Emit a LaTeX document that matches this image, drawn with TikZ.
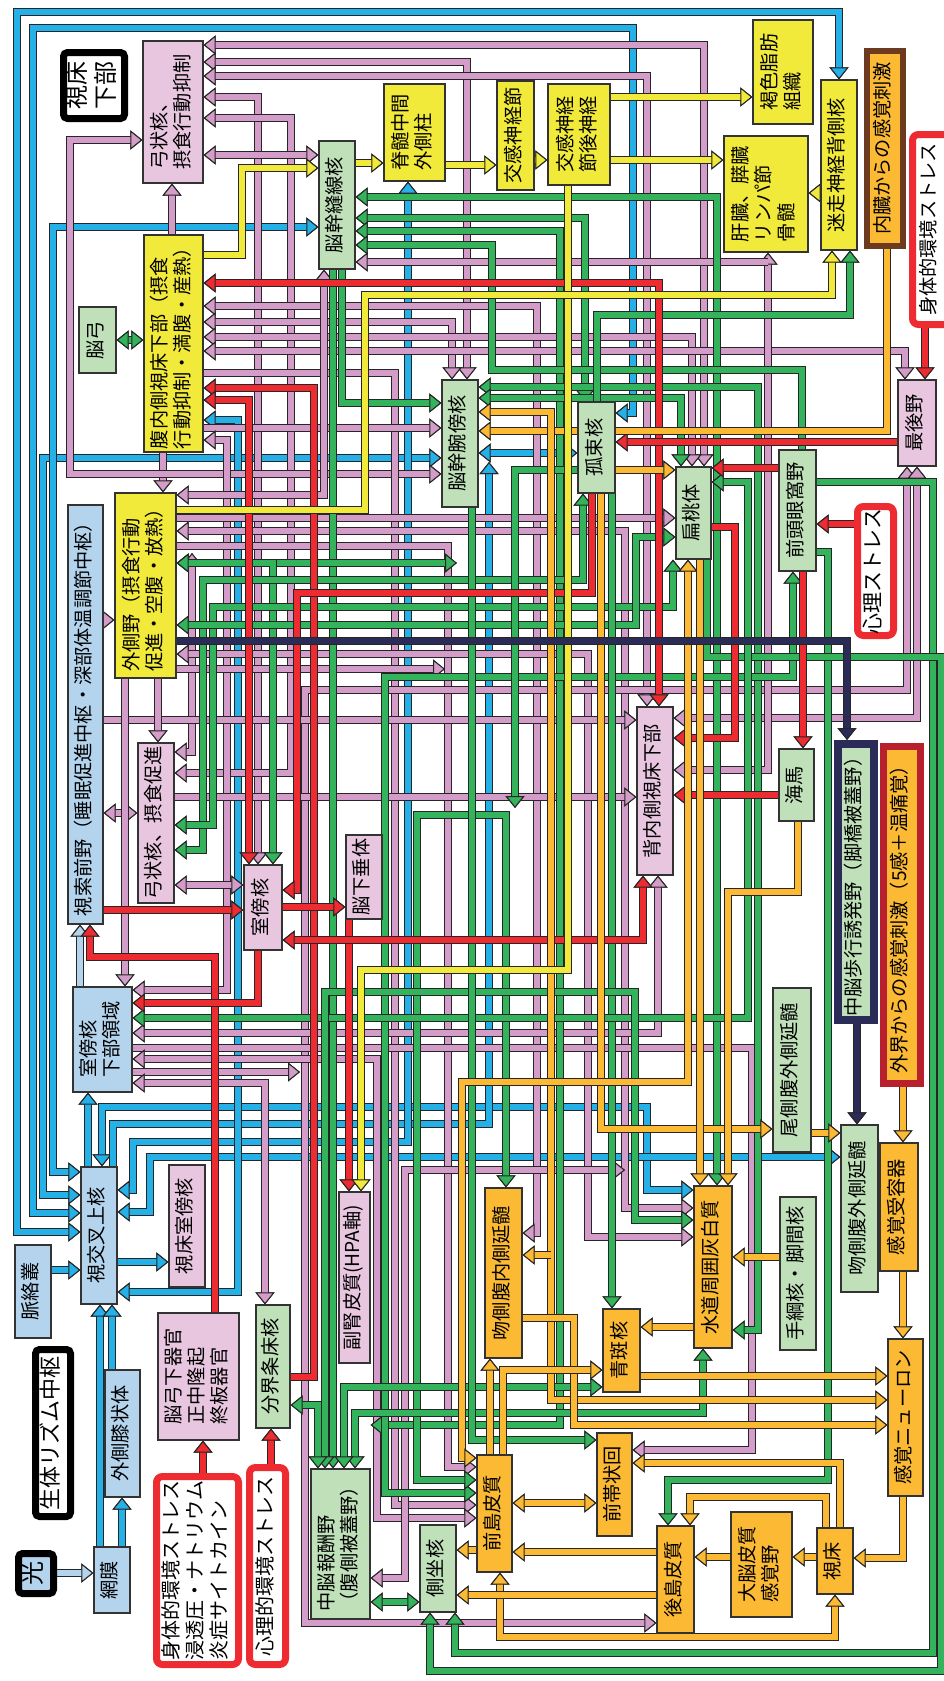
\documentclass[tikz,border=0pt]{standalone}
\usepackage{fontspec}
\setmainfont{Noto Sans CJK JP}
\usetikzlibrary{arrows.meta}
\pgfdeclarelayer{bg}
\pgfsetlayers{bg,main}
\definecolor{lnB}{HTML}{25B0E8}
\definecolor{lnP}{HTML}{D49CC8}
\definecolor{lnG}{HTML}{33B35B}
\definecolor{lnY}{HTML}{F2EA3A}
\definecolor{lnR}{HTML}{EE2B30}
\definecolor{lnO}{HTML}{FBB934}
\definecolor{lnN}{HTML}{2B2B57}
\definecolor{lnL}{HTML}{B4D4EE}
\definecolor{pkB}{HTML}{E8C6E0}
\definecolor{grB}{HTML}{BFE0B8}
\definecolor{blB}{HTML}{B4D4EE}
\definecolor{yeB}{HTML}{F2EA3A}
\definecolor{orB}{HTML}{FBB934}
\definecolor{brn}{HTML}{6B3A1F}
\definecolor{dkr}{HTML}{B8202E}
\tikzset{
  box/.style={draw=black!80, line width=0.6pt, inner sep=0pt, font=\fontsize{9.6}{11.5}\selectfont},
  thk/.style={draw=black, line width=3.5pt, rounded corners=2pt},
  strs/.style={draw=lnR, line width=3.5pt, rounded corners=3pt},
  ln/.style={line width=3pt, draw=#1,
    >={Triangle[length=6pt,width=9.5pt,line width=0.5pt,color=black!85,fill=#1]},
    preaction={draw=black!85, line width=4.2pt}},
  bl/.style={ln=lnB}, pk/.style={ln=lnP}, gr/.style={ln=lnG}, ye/.style={ln=lnY},
  rd/.style={ln=lnR}, og/.style={ln=lnO}, nv/.style={ln=lnN}, lb/.style={ln=lnL}
}
% box: [options]{name}{x1}{y1}{x2}{y2}{fill}{text}
\newcommand\bx[8][]{\node[box,fill=#7,minimum width={(#5-#3)*0.5pt},minimum height={(#6-#4)*0.5pt},#1] (#2) at ({(#3+#5)/2},{(#4+#6)/2}) {\rotatebox{90}{\begin{tabular}{@{}l@{}}#8\end{tabular}}};}

\begin{document}
\begin{tikzpicture}[x=0.5pt,y=-0.5pt]
\useasboundingbox (0,0) rectangle (943,1681);
\begin{pgfonlayer}{bg}
\fill[white] (0,0) rectangle (943,1681);
\end{pgfonlayer}

% hypothalamus and upper part
\bx[thk,font=\fontsize{12}{14}\selectfont]{hyp}{63.5}{52.5}{124.5}{118.5}{white}{視床\\下部}
\bx{arcinh}{143}{41}{203}{183}{pkB}{弓状核、\\摂食行動抑制}
\bx{vmh}{144}{235}{203}{452}{yeB}{腹内側視床下部（摂食\\行動抑制・満腹・産熱）}
\bx{fornix}{79}{307}{116}{373}{grB}{脳弓}
\bx{raphe}{319}{141}{355}{269}{grB}{脳幹縫線核}
\bx{iml}{384}{84}{445}{181}{yeB}{脊髄中間\\外側柱}
\bx{sgang}{497}{81}{534}{190}{yeB}{交感神経節}
\bx{postg}{548}{84}{610}{185}{yeB}{交感神経\\節後神経}
\bx{bat}{753}{20}{813}{124}{yeB}{褐色脂肪\\組織}
\bx{liver}{724}{136}{808}{252}{yeB}{肝臓、膵臓\\リンパ節\\骨髄}
\bx{dmv}{821}{80}{857}{250}{yeB}{迷走神経背側核}
\bx[draw=brn,line width=3pt]{visc}{867}{51}{903}{246}{orB}{内臓からの感覚刺激}
\bx[strs]{phys2}{912.5}{134.5}{950}{324.5}{white}{身体的環境ストレス}
\bx{ap}{898}{380}{936}{466}{pkB}{最後野}
\bx{pbn}{442}{380}{478}{507}{grB}{脳幹腕傍核}
\bx{nts}{578}{402}{615}{493}{grB}{孤束核}
\bx{amy}{676}{467}{711}{559}{grB}{扁桃体}
\bx{ofc}{779}{450}{816}{571}{grB}{前頭眼窩野}
\bx[strs,font=\fontsize{10.5}{12}\selectfont]{psy1}{857.5}{506.5}{893.5}{635.5}{white}{心理ストレス}
\bx{poa}{68}{505}{103}{924}{blB}{視索前野（睡眠促進中枢・深部体温調節中枢）}
\bx{lh}{115}{493}{176}{678}{yeB}{外側野（摂食行動\\促進・空腹・放熱）}
\bx{arcexc}{138}{743}{174}{903}{pkB}{弓状核、摂食促進}
\bx{dmh}{637}{707}{673}{875}{pkB}{背内側視床下部}
\bx{hip}{779}{749}{814}{821}{grB}{海馬}
\bx[draw=lnN,line width=4pt]{mlr}{838}{744}{874}{1020}{grB}{中脳歩行誘発野（脚橋被蓋野）}
\bx[draw=dkr,line width=3.5pt]{ext}{883.5}{746.5}{920.5}{1083.5}{orB}{外界からの感覚刺激（5感＋温痛覚）}
\bx{pvn}{244}{865}{282}{950}{pkB}{室傍核}
\bx{pit}{346}{835}{382}{919}{pkB}{脳下垂体}
\bx{subpvz}{73}{987}{132}{1092}{blB}{室傍核\\下部領域}
% lower part
\bx{scn}{81}{1167}{117}{1304}{blB}{視交叉上核}
\bx{pvt}{169}{1165}{205}{1287}{pkB}{視床室傍核}
\bx{cp}{15}{1245}{51}{1338}{blB}{脈絡叢}
\bx{adr}{339}{1192}{370}{1363}{pkB}{副腎皮質(HPA軸)}
\bx{rvmm}{485}{1188}{522}{1358}{orB}{吻側腹内側延髄}
\bx{cvlm}{773}{988}{811}{1152}{grB}{尾側腹外側延髄}
\bx{rvlm}{841}{1125}{878}{1292}{grB}{吻側腹外側延髄}
\bx{sr}{880}{1143}{918}{1271}{orB}{感覚受容器}
\bx{pag}{694}{1186}{732}{1348}{orB}{水道周囲灰白質}
\bx{hab}{780}{1197}{816}{1350}{grB}{手綱核・脚間核}
\bx{lc}{603}{1309}{640}{1392}{orB}{青斑核}
\bx{acc}{597}{1433}{632}{1536}{orB}{前帯状回}
\bx{sn}{888}{1339}{923}{1496}{orB}{感覚ニューロン}
\bx{pins}{657}{1526}{694}{1633}{orB}{後島皮質}
\bx{s1}{731}{1512}{792}{1617}{orB}{大脳皮質\\感覚野}
\bx{thal}{817}{1528}{853}{1594}{orB}{視床}
\bx{ains}{477}{1455}{512}{1572}{orB}{前島皮質}
\bx{nac}{420}{1525}{456}{1612}{grB}{側坐核}
\bx{vta}{311}{1469}{370}{1619}{grB}{中脳報酬野\\（腹側被蓋野）}
\bx[thk,font=\fontsize{12}{14}\selectfont]{light}{18.5}{1553.5}{53.5}{1593.5}{blB}{光}
\bx{ret}{94}{1547}{130}{1613}{blB}{網膜}
\bx{lgn}{105}{1370}{140}{1497}{blB}{外側膝状体}
\bx[thk,font=\fontsize{11}{13}\selectfont]{rhythm}{35.5}{1349.5}{70.5}{1516.5}{white}{生体リズム中枢}
\bx[strs,font=\fontsize{10}{12}\selectfont]{phys1}{156.5}{1476.5}{238.5}{1664.5}{white}{身体的環境ストレス\\浸透圧・ナトリウム\\炎症サイトカイン}
\bx{cvo}{158}{1313}{239}{1440}{pkB}{脳弓下器官\\正中隆起\\終板器官}
\bx{bnst}{256}{1305}{290}{1428}{grB}{分界条床核}
\bx[strs,font=\fontsize{10}{12}\selectfont]{psy2}{249.5}{1467.5}{285.5}{1664.5}{white}{心理的環境ストレス}

\begin{pgfonlayer}{bg}
% blue
\draw[bl,<->] (scn.west|-0,1232) -| (17,12) -| (dmv.north);
\draw[bl,<->] (scn.west|-0,1213) -| (33,28) -| (633,413) -- (nts.east|-0,413);
\draw[bl,<->] (scn.west|-0,1195) -| (43,458) -- (pbn.west|-0,458);
\draw[bl,<->] (scn.west|-0,1172) -| (53,227) -- (raphe.west|-0,227);
\draw[bl,->] (scn.north-|88,0) -- (subpvz.south-|88,0);
\draw[bl,<->] (scn.north-|102,0) |- (647,1107) |- (pag.west|-0,1190);
\draw[bl,->] (scn.north-|113,0) |- (489,1124) -- (489,462);
\draw[bl,<->] (scn.east|-0,1190) -| (133,1142) -| (iml.south-|408,0);
\draw[bl,<->] (scn.east|-0,1212) -| (150,1157) -- (rvlm.west|-0,1157);
\draw[bl,->] (scn.east|-0,1262) -- (pvt.west|-0,1262);
\draw[bl,<->] (scn.east|-0,1292) -| (238,420) -- (vmh.east|-0,420);
\draw[bl,->] (cp.east|-0,1270) -- (scn.west|-0,1270);
\draw[bl,->] (ret.north-|100,0) -- (scn.south-|100,0);
\draw[bl,->] (ret.north-|122,0) -- (lgn.south-|122,0);
\draw[bl,->] (lgn.north-|112,0) -- (scn.south-|112,0);
\draw[bl,<->] (pbn.east|-0,453) -- (nts.west|-0,453);
\draw[lb,->] (light.east|-0,1573) -- (ret.west|-0,1573);
\draw[lb,->] (subpvz.north-|80,0) -- (poa.south-|80,0);
% pink
\draw[pk,<->] (arcinh.east|-0,45) -| (amy.north-|704,0);
\draw[pk,<->] (arcinh.east|-0,62) -| (pbn.north-|467,0);
\draw[pk,<->] (arcinh.east|-0,76) -| (dmh.north-|647,0);
\draw[pk,<->] (arcinh.east|-0,97) -| (pvn.north-|258,0);
\draw[pk,<->] (arcinh.east|-0,118) -| (291,773) -- (arcexc.east|-0,773);
\draw[pk,<->] (arcinh.east|-0,155) -- (raphe.west|-0,155);
\draw[pk,->] (vmh.north-|172,0) -- (arcinh.south-|172,0);
\draw[pk,->] (vmh.south-|163,0) -- (lh.north-|163,0);
\draw[pk,<->] (arcinh.west|-0,140) -| (70,474) -- (pbn.west|-0,474);
\draw[pk,<->] (vmh.east|-0,306) -| (537,1233) -- (rvmm.east|-0,1233);
\draw[pk,<->] (vmh.east|-0,322) -| (pbn.north-|452,0);
\draw[pk,<->] (vmh.east|-0,337) -| (amy.north-|692,0);
\draw[pk,<->] (vmh.east|-0,351) -| (ap.north-|905,0);
\draw[pk,->] (vmh.east|-0,373) -| (395,1505) -- (ains.west|-0,1505);
\draw[pk,->] (vmh.east|-0,428) -- (pbn.west|-0,428);
\draw[pk,<->] (vmh.east|-0,440) -| (227,990) -- (subpvz.east|-0,990);
\draw[pk,<->] (lh.east|-0,495) -| (raphe.south-|324,0);
\draw[pk,->] (lh.east|-0,518) -- (amy.west|-0,518);
\draw[pk,<->] (lh.east|-0,531) -| (625,1208) -- (pag.west|-0,1208);
\draw[pk,->] (lh.east|-0,546) -| (448,1467) -- (ains.west|-0,1467);
\draw[pk,<->] (arcexc.east|-0,752) -| (192,553);
\draw[pk,<->] (lh.east|-0,654) -| (588,1237) -- (pag.west|-0,1237);
\draw[pk,->] (lh.east|-0,669) -- (445,669);
\draw[pk,<->] (ap.south-|907,0) |- (305,690) |- (pins.west|-0,1623);
\draw[pk,->] (poa.east|-0,720) -- (dmh.west|-0,720);
\draw[pk,<->] (dmh.east|-0,718) -| (ap.south-|917,0);
\draw[pk,->] (arcexc.east|-0,797) -- (dmh.west|-0,797);
\draw[pk,<->] (poa.east|-0,813) -- (arcexc.west|-0,813);
\draw[pk,<->] (poa.east|-0,620) -- (lh.west|-0,620);
\draw[pk,<->] (arcexc.east|-0,885) -- (pvn.west|-0,885);
\draw[pk,->] (lh.south-|125,0) -- (subpvz.north-|125,0);
\draw[pk,->] (lh.south-|158,0) -- (arcexc.north-|158,0);
\draw[pk,<->] (dmh.south-|658,0) |- (subpvz.east|-0,1033);
\draw[pk,->] (subpvz.east|-0,1048) -| (752,1450) -- (acc.east|-0,1450);
\draw[pk,<->] (subpvz.east|-0,1059) -| (377,1518) -- (ains.west|-0,1518);
\draw[pk,->] (subpvz.east|-0,1072) -- (300,1072);
\draw[pk,<->] (subpvz.east|-0,1083) -| (bnst.north-|265,0);
\draw[pk,<->] (vta.east|-0,1578) -| (405,1170) -- (625,1170);
\draw[pk,<->] (dmh.east|-0,770) -| (liver.south-|768,0);
\draw[pk,<-] (raphe.east|-0,262) -- (768,262);
% green
\draw[gr,<->] (fornix.east) -- (vmh.west|-fornix.east);
\draw[gr,<->] (raphe.east|-0,197) -| (pag.north-|717,0);
\draw[gr,<->] (raphe.east|-0,218) -| (nts.north-|585,0);
\draw[gr,<->] (raphe.east|-0,231) -| (560,1425) -- (vta.east|-0,1425);
\draw[gr,->] (ofc.north-|802,0) |- (492,370) |- (raphe.east|-0,245);
\draw[gr,<->] (pbn.east|-0,387) -| (758,1330) -- (pag.east|-0,1330);
\draw[gr,<->] (pbn.east|-0,398) -| (amy.north-|681,0);
\draw[gr,->] (raphe.south-|342,0) |- (pbn.west|-0,403);
\draw[gr,->] (raphe.south-|333,0) -- (vta.north-|333,0);
\draw[gr,<->] (lh.east|-0,563) -- (457,563);
\draw[gr,<->] (lh.east|-0,563) -| (pvn.north-|273,0);
\draw[gr,<->] (nts.south-|583,0) |- (203,580) |- (arcexc.east|-0,850);
\draw[gr,<->] (amy.south-|673,0) |- (213,607) |- (arcexc.east|-0,825);
\draw[gr,<->] (lh.east|-0,625) -| (636,537) -- (amy.west|-0,537);
\draw[gr,<->] (ofc.south-|793,0) |- (385,677) |- (ains.west|-0,1493);
\draw[gr,<->] (rvmm.north-|506,0) |- (417,815) |- (ains.west|-0,1480);
\draw[gr,->] (nts.west|-0,470) -| (515,808);
\draw[gr,->] (nts.south-|612,0) -- (lc.north-|612,0);
\draw[gr,->] (nts.north-|597,0) -- (597,315) -| (dmv.south-|850,0);
\draw[gr,->] (ofc.east|-0,552) -| (828,1480) -| (pins.north-|668,0);
\draw[gr,->] (ofc.east|-0,482) -| (933,1653) -| (nac.south-|455,0);
\draw[gr,->] (amy.south-|707,0) |- (941,657) -- (941,1671) -| (nac.south-|430,0);
\draw[gr,<->] (amy.east|-0,482) -| (748,1018) -- (subpvz.east|-0,1018);
\draw[gr,<->] (pag.west|-0,1220) -| (635,992) -| (vta.north-|325,0);
\draw[gr,<->] (vta.north-|355,0) |- (703,1413) -- (pag.south-|703,0);
\draw[gr,<->] (vta.north-|344,0) |- (lc.west|-0,1387);
\draw[gr,->] (pbn.south-|472,0) |- (acc.west|-0,1440);
\draw[gr,<->] (bnst.east|-0,1405) -| (vta.north-|318,0);
\draw[gr,<->] (vta.east|-0,1602) -- (nac.west|-0,1602);
% red
\draw[rd,<->] (dmh.north-|659,0) |- (vmh.east|-0,283);
\draw[rd,->] (bnst.east|-0,1377) -| (314,388) -- (vmh.east|-0,388);
\draw[rd,<->] (vmh.east|-0,400) -| (pvn.north-|249,0);
\draw[rd,->] (pvn.east|-0,907) -- (pit.west|-0,907);
\draw[rd,->] (pit.south-|349,0) -- (adr.north-|349,0);
\draw[rd,->] (poa.east|-0,910) -- (pvn.west|-0,910);
\draw[rd,->] (cvo.north-|215,0) |- (90,957) -- (poa.south-|90,0);
\draw[rd,->] (pvn.south-|258,0) |- (subpvz.east|-0,1003);
\draw[rd,<->] (pvn.east|-0,940) -| (dmh.south-|643,0);
\draw[rd,->] (nts.south-|592,0) |- (297,593) |- (pvn.east|-0,890);
\draw[rd,->] (ap.west|-0,442) -- (nts.east|-0,442);
\draw[rd,->] (psy1.west|-0,524) -- (ofc.east|-0,524);
\draw[rd,->] (ofc.south-|803,0) -- (hip.north-|803,0);
\draw[rd,->] (ofc.west|-0,468) -- (amy.east|-0,468);
\draw[rd,->] (amy.east|-0,527) -| (735,738) -- (dmh.east|-0,738);
\draw[rd,->] (hip.west|-0,795) -- (dmh.east|-0,795);
\draw[rd,->] (phys2.south-|925,0) -- (ap.north-|925,0);
\draw[rd,->] (phys1.north-|203,0) -- (cvo.south-|203,0);
\draw[rd,->] (psy2.north-|271,0) -- (bnst.south-|271,0);
% orange
\draw[og,->] (visc.south-|887,0) |- (pbn.east|-0,431);
\draw[og,<->] (pbn.east|-0,412) -| (551,1400) -- (sn.west|-0,1400);
\draw[og,->] (551,1255) -- (rvmm.east|-0,1255);
\draw[og,->] (nts.south-|601,0) |- (cvlm.west|-0,1129);
\draw[og,->] (cvlm.east|-0,1133) -- (rvlm.west|-0,1133);
\draw[og,->] (ext.south-|903,0) -- (sr.north-|903,0);
\draw[og,->] (sr.south-|903,0) -- (sn.north-|903,0);
\draw[og,->] (sn.south-|903,0) |- (thal.east|-0,1558);
\draw[og,->] (thal.west|-0,1557) -- (s1.east|-0,1557);
\draw[og,->] (s1.west|-0,1557) -- (pins.east|-0,1557);
\draw[og,->] (thal.north-|826,0) |- (690,1497) -- (pins.north-|690,0);
\draw[og,->] (thal.north-|840,0) |- (acc.east|-0,1463);
\draw[og,<->] (thal.south-|835,0) |- (500,1637) -- (ains.south-|500,0);
\draw[og,->] (lc.east|-0,1376) -- (sn.west|-0,1376);
\draw[og,->] (rvmm.east|-0,1318) -| (574,1425) -- (sn.west|-0,1425);
\draw[og,->] (ains.north-|503,0) |- (lc.west|-0,1370);
\draw[og,->] (ains.north-|490,0) -- (rvmm.south-|490,0);
\draw[og,<->] (ains.east|-0,1503) -- (acc.west|-0,1503);
\draw[og,->] (pins.west|-0,1552) -- (ains.east|-0,1552);
\draw[og,->] (ains.west|-0,1550) -- (nac.east|-0,1550);
\draw[og,->] (pins.west|-0,1595) -- (nac.east|-0,1595);
\draw[og,->] (pag.west|-0,1327) -- (lc.east|-0,1327);
\draw[og,->] (hab.west|-0,1257) -- (pag.east|-0,1257);
\draw[og,->] (hip.south-|798,0) |- (728,892) -- (pag.north-|728,0);
\draw[og,<->] (amy.south-|688,0) |- (462,1082) |- (ains.west|-0,1458);
\draw[og,->] (nts.east|-0,470) -- (amy.west|-0,470);
\draw[og,->] (amy.south-|700,0) -- (pag.north-|700,0);
% yellow
\draw[ye,->] (vmh.east|-0,255) -| (242,168) -- (raphe.west|-0,168);
\draw[ye,->] (raphe.east|-0,163) -- (iml.west|-0,163);
\draw[ye,->] (iml.east|-0,165) -- (sgang.west|-0,165);
\draw[ye,->] (sgang.east|-0,160) -- (postg.west|-0,160);
\draw[ye,->] (postg.east|-0,97) -- (bat.west|-0,97);
\draw[ye,->] (postg.east|-0,160) -- (liver.west|-0,160);
\draw[ye,->] (dmv.west|-0,193) -- (liver.east|-0,193);
\draw[ye,->] (postg.south-|568,0) |- (361,970) -- (adr.north-|361,0);
\draw[ye,->] (lh.east|-0,510) -| (365,295) -| (dmv.south-|832,0);
% navy
\draw[nv,->] (lh.east|-0,641) -| (mlr.north-|847,0);
\draw[nv,->] (mlr.south-|857,0) -- (rvlm.north-|857,0);
\end{pgfonlayer}
\end{tikzpicture}
\end{document}
